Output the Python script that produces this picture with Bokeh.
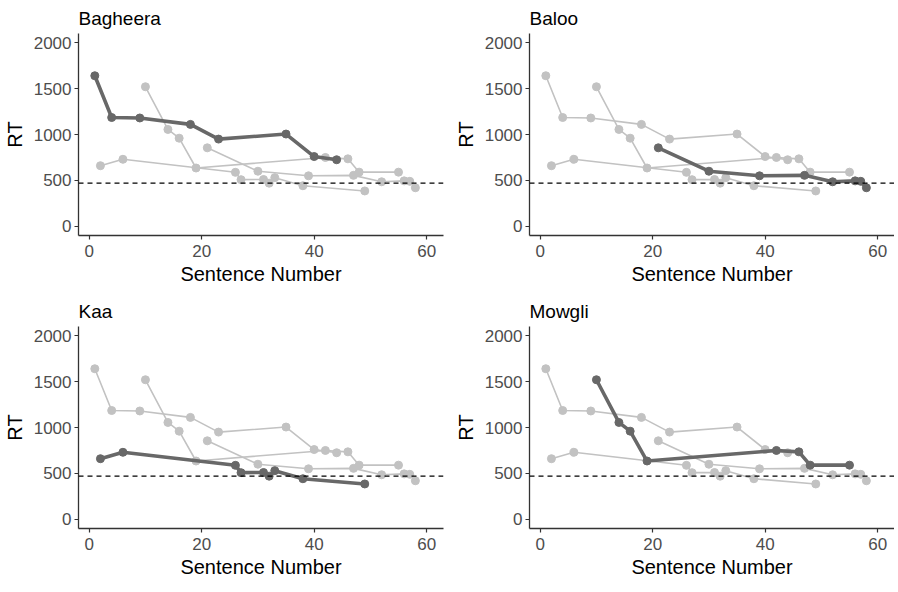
from bokeh.plotting import figure
from bokeh.layouts import column, row
from bokeh.models import Range1d, Span, FixedTicker
from bokeh.embed import file_html
from bokeh.resources import INLINE

# ---- data ----
characters = ["Bagheera", "Baloo", "Kaa", "Mowgli"]

bagheera_x = [1, 4, 9, 18, 23, 35, 40, 44]
bagheera_rt = [1640, 1185, 1180, 1110, 950, 1005, 760, 725]

baloo_x = [21, 30, 39, 47, 52, 56, 57, 58]
baloo_rt = [855, 600, 550, 555, 485, 495, 490, 420]

kaa_x = [2, 6, 26, 27, 31, 32, 33, 38, 49]
kaa_rt = [660, 730, 588, 508, 510, 470, 530, 442, 385]

mowgli_x = [10, 14, 16, 19, 42, 46, 48, 55]
mowgli_rt = [1520, 1055, 960, 635, 750, 735, 590, 590]

threshold_rt = 470

x_ticks = [0, 20, 40, 60]
y_ticks = [0, 500, 1000, 1500, 2000]

series = {
    "Bagheera": (bagheera_x, bagheera_rt),
    "Baloo": (baloo_x, baloo_rt),
    "Kaa": (kaa_x, kaa_rt),
    "Mowgli": (mowgli_x, mowgli_rt),
}

FONT = "Liberation Sans"
LIGHT = "#C2C2C2"
DARK = "#686868"
AXIS = "#333333"


def make_panel(name, left, right, top, bottom):
    p = figure(frame_width=365, frame_height=202, output_backend="svg",
               toolbar_location=None,
               x_range=Range1d(-1.9, 63), y_range=Range1d(-100, 2100),
               min_border_left=left, min_border_right=right,
               min_border_top=top, min_border_bottom=bottom)
    p.outline_line_color = None
    p.grid.visible = False
    p.background_fill_color = "white"
    p.border_fill_color = "white"

    p.title.text = name
    p.title.text_font = FONT
    p.title.text_font_size = "19px"
    p.title.text_font_style = "normal"
    p.title.text_color = "black"
    p.title.align = "left"
    p.title.offset = 0

    for ax in (p.xaxis[0], p.yaxis[0]):
        ax.axis_line_color = AXIS
        ax.axis_line_width = 1.3
        ax.major_tick_line_color = AXIS
        ax.major_tick_line_width = 1.2
        ax.major_tick_out = 4
        ax.major_tick_in = 0
        ax.minor_tick_line_color = None
        ax.major_label_text_font = FONT
        ax.major_label_text_font_size = "17px"
        ax.major_label_text_color = "#4D4D4D"
        ax.axis_label_text_font = FONT
        ax.axis_label_text_font_size = "20px"
        ax.axis_label_text_font_style = "normal"
        ax.axis_label_text_color = "black"

    p.xaxis.ticker = FixedTicker(ticks=x_ticks)
    p.yaxis.ticker = FixedTicker(ticks=y_ticks)
    p.xaxis.axis_label = "Sentence Number"
    p.yaxis.axis_label = "RT"
    p.xaxis.major_label_standoff = 5
    p.xaxis.axis_label_standoff = 3
    p.yaxis.major_label_standoff = 3
    p.yaxis.axis_label_standoff = 5

    # other characters in light grey
    for other, (xs, ys) in series.items():
        if other == name:
            continue
        p.line(xs, ys, line_color=LIGHT, line_width=1.6)
        p.scatter(xs, ys, size=8, fill_color=LIGHT, line_color=LIGHT)

    p.add_layout(Span(location=threshold_rt, dimension="width",
                      line_color="black", line_width=1.3, line_dash="5 4"))

    xs, ys = series[name]
    p.line(xs, ys, line_color=DARK, line_width=3.6)
    p.scatter(xs, ys, size=8, fill_color=DARK, line_color=DARK)
    return p


p1 = make_panel("Bagheera", 64, 6, 26, 58)
p2 = make_panel("Baloo", 80, 0, 26, 58)
p3 = make_panel("Kaa", 64, 6, 33, 54)
p4 = make_panel("Mowgli", 80, 0, 33, 54)

layout = column(row(p1, p2), row(p3, p4))

open("out.html", "w").write(file_html(layout, INLINE))
